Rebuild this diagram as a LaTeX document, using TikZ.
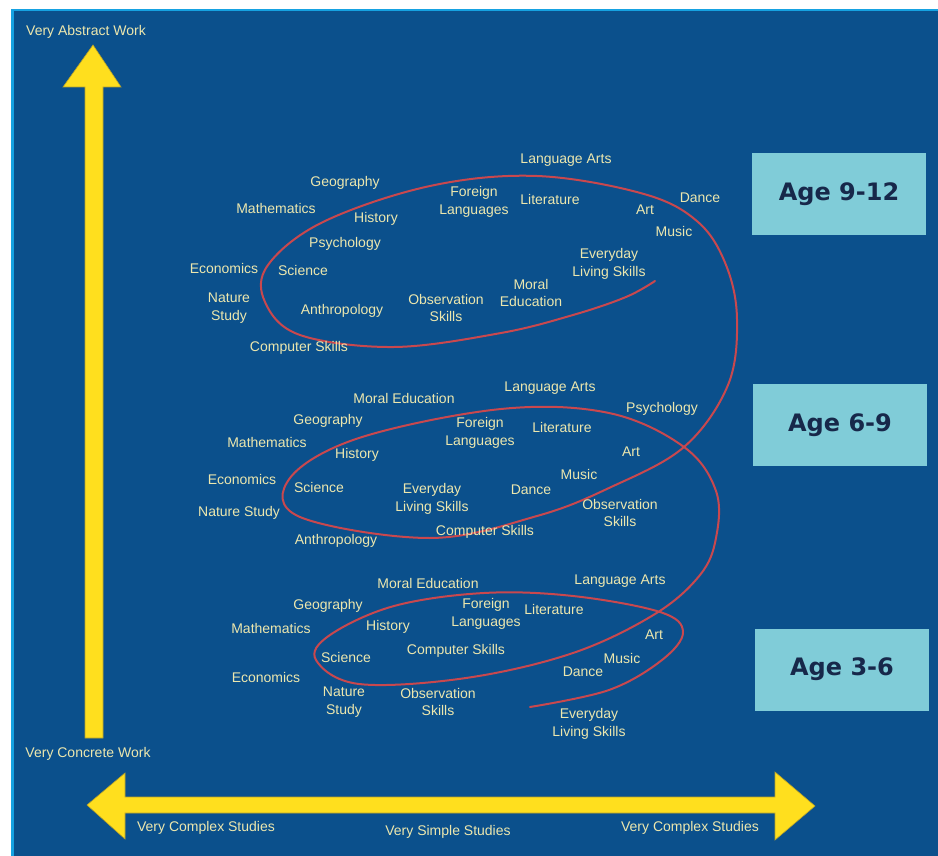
\documentclass[tikz,border=0pt]{standalone}
\usepackage{fontspec}
\setmainfont{Liberation Sans}
\newfontfamily\agefont{DejaVu Sans}
\definecolor{panelblue}{HTML}{0B508C}
\definecolor{panelrim}{HTML}{16A2E2}
\definecolor{arrowyellow}{HTML}{FFDF1E}
\definecolor{arrowrim}{HTML}{B8A22A}
\definecolor{labelyellow}{HTML}{ECE7AE}
\definecolor{boxcyan}{HTML}{80CCD8}
\definecolor{boxtext}{HTML}{17284A}
\definecolor{spiralred}{HTML}{C9484E}

\tikzset{
  subj/.style={text=labelyellow, font=\fontsize{14}{17.5}\selectfont, align=center, inner sep=0pt},
  axislabel/.style={subj},
  agebox/.style={fill=boxcyan, text=boxtext, minimum width=174pt, minimum height=82pt, inner sep=0pt,
    font=\agefont\bfseries\fontsize{24}{28}\selectfont},
  bigarrow/.style={fill=arrowyellow, draw=arrowrim, line width=0.6pt, line join=miter}
}

\begin{document}
\begin{tikzpicture}[x=1pt, y=-1pt]
        % background and the blue panel
        \fill [white] (0,0) rectangle (938,856);
        \useasboundingbox (0,0) rectangle (938,856);
        \fill [panelblue] (11,9) rectangle (938,856);
        \draw [panelrim, line width=2.5pt] (12.25,856) -- (12.25,10.25) -- (938,10.25);
        % the two axes
        \draw [bigarrow] (85,738) -- (85,87) -- (63,87) -- (93,45) -- (121,87) -- (103,87) -- (103,738) -- cycle;
        \draw [bigarrow] (87,805) -- (125,773) -- (125,797) -- (775,797) -- (775,772) -- (815,806)
              -- (775,840) -- (775,813) -- (125,813) -- (125,839) -- cycle;
        \node [axislabel] (abstract) at (86,32) {Very Abstract Work};
        \node [axislabel] (concrete) at (88,754) {Very Concrete Work};
        \node [axislabel] (complexl) at (206,828) {Very Complex Studies};
        \node [axislabel] (simple) at (448,832) {Very Simple Studies};
        \node [axislabel] (complexr) at (690,828) {Very Complex Studies};
        % the spiral
        \draw [spiralred, line width=2pt, line cap=round] plot [smooth, tension=0.6] coordinates {
              (530,707) (609,690) (662,660) (683,632) (660,612) (573,596) (484,593) (394,606)
              (330,635) (316,660) (359,684) (466,678) (573,653) (655,614) (700,575) (716,538)
              (716,491) (684,447) (609,413) (501,409) (359,438) (290,478) (300,517) (430,538)
              (537,516) (609,488) (684,447) (728,385) (737,319) (726,265) (698,222) (644,194)
              (537,176) (430,186) (323,222) (268,265) (265,302) (300,335) (394,347) (501,333)
              (573,315) (626,297) (655,281)};
        % the age boxes
        \node [agebox] (age912) at (839,194.5) {Age 9-12};
        \node [agebox] (age69) at (840,425) {Age 6-9};
        \node [agebox] (age36) at (842,669.5) {Age 3-6};
        % studies at age 9-12
        \node [subj] (langtop) at (566,160) {Language Arts};
        \node [subj] (geotop) at (345,183) {Geography};
        \node [subj] (mathtop) at (276,208) {Mathematics};
        \node [subj] (foreigntop) at (474,202) {Foreign\\Languages};
        \node [subj] (histtop) at (376,219) {History};
        \node [subj] (littop) at (550,199) {Literature};
        \node [subj] (arttop) at (645,210) {Art};
        \node [subj] (dancetop) at (700,198) {Dance};
        \node [subj] (musictop) at (674,231) {Music};
        \node [subj] (psychtop) at (345,244) {Psychology};
        \node [subj] (econtop) at (224,268) {Economics};
        \node [subj] (scitop) at (303,270) {Science};
        \node [subj] (livingtop) at (609,264) {Everyday\\Living Skills};
        \node [subj] (moraltop) at (531,293) {Moral\\Education};
        \node [subj] (naturetop) at (229,308) {Nature\\Study};
        \node [subj] (anthrotop) at (342,311) {Anthropology};
        \node [subj] (obstop) at (446,308) {Observation\\Skills};
        \node [subj] (comptop) at (299,348) {Computer Skills};
        % studies at age 6-9
        \node [subj] (langmid) at (550,388) {Language Arts};
        \node [subj] (moralmid) at (404,398) {Moral Education};
        \node [subj] (psychmid) at (662,409) {Psychology};
        \node [subj] (geomid) at (328,421) {Geography};
        \node [subj] (foreignmid) at (480,433) {Foreign\\Languages};
        \node [subj] (litmid) at (562,427) {Literature};
        \node [subj] (mathmid) at (267,442) {Mathematics};
        \node [subj] (histmid) at (357,455) {History};
        \node [subj] (artmid) at (631,452) {Art};
        \node [subj] (econmid) at (242,479) {Economics};
        \node [subj] (scimid) at (319,487) {Science};
        \node [subj] (musicmid) at (579,474) {Music};
        \node [subj] (livingmid) at (432,499) {Everyday\\Living Skills};
        \node [subj] (dancemid) at (531,490) {Dance};
        \node [subj] (obsmid) at (620,513) {Observation\\Skills};
        \node [subj] (naturemid) at (239,513) {Nature Study};
        \node [subj] (compmid) at (485,532) {Computer Skills};
        \node [subj] (anthromid) at (336,541) {Anthropology};
        % studies at age 3-6
        \node [subj] (morallow) at (428,583) {Moral Education};
        \node [subj] (langlow) at (620,581) {Language Arts};
        \node [subj] (geolow) at (328,606) {Geography};
        \node [subj] (foreignlow) at (486,614) {Foreign\\Languages};
        \node [subj] (litlow) at (554,609) {Literature};
        \node [subj] (mathlow) at (271,628) {Mathematics};
        \node [subj] (histlow) at (388,627) {History};
        \node [subj] (artlow) at (654,635) {Art};
        \node [subj] (scilow) at (346,657) {Science};
        \node [subj] (complow) at (456,651) {Computer Skills};
        \node [subj] (musiclow) at (622,658) {Music};
        \node [subj] (econlow) at (266,677) {Economics};
        \node [subj] (dancelow) at (583,672) {Dance};
        \node [subj] (naturelow) at (344,702) {Nature\\Study};
        \node [subj] (obslow) at (438,702) {Observation\\Skills};
        \node [subj] (livinglow) at (589,724) {Everyday\\Living Skills};
    \end{tikzpicture}
\end{document}
